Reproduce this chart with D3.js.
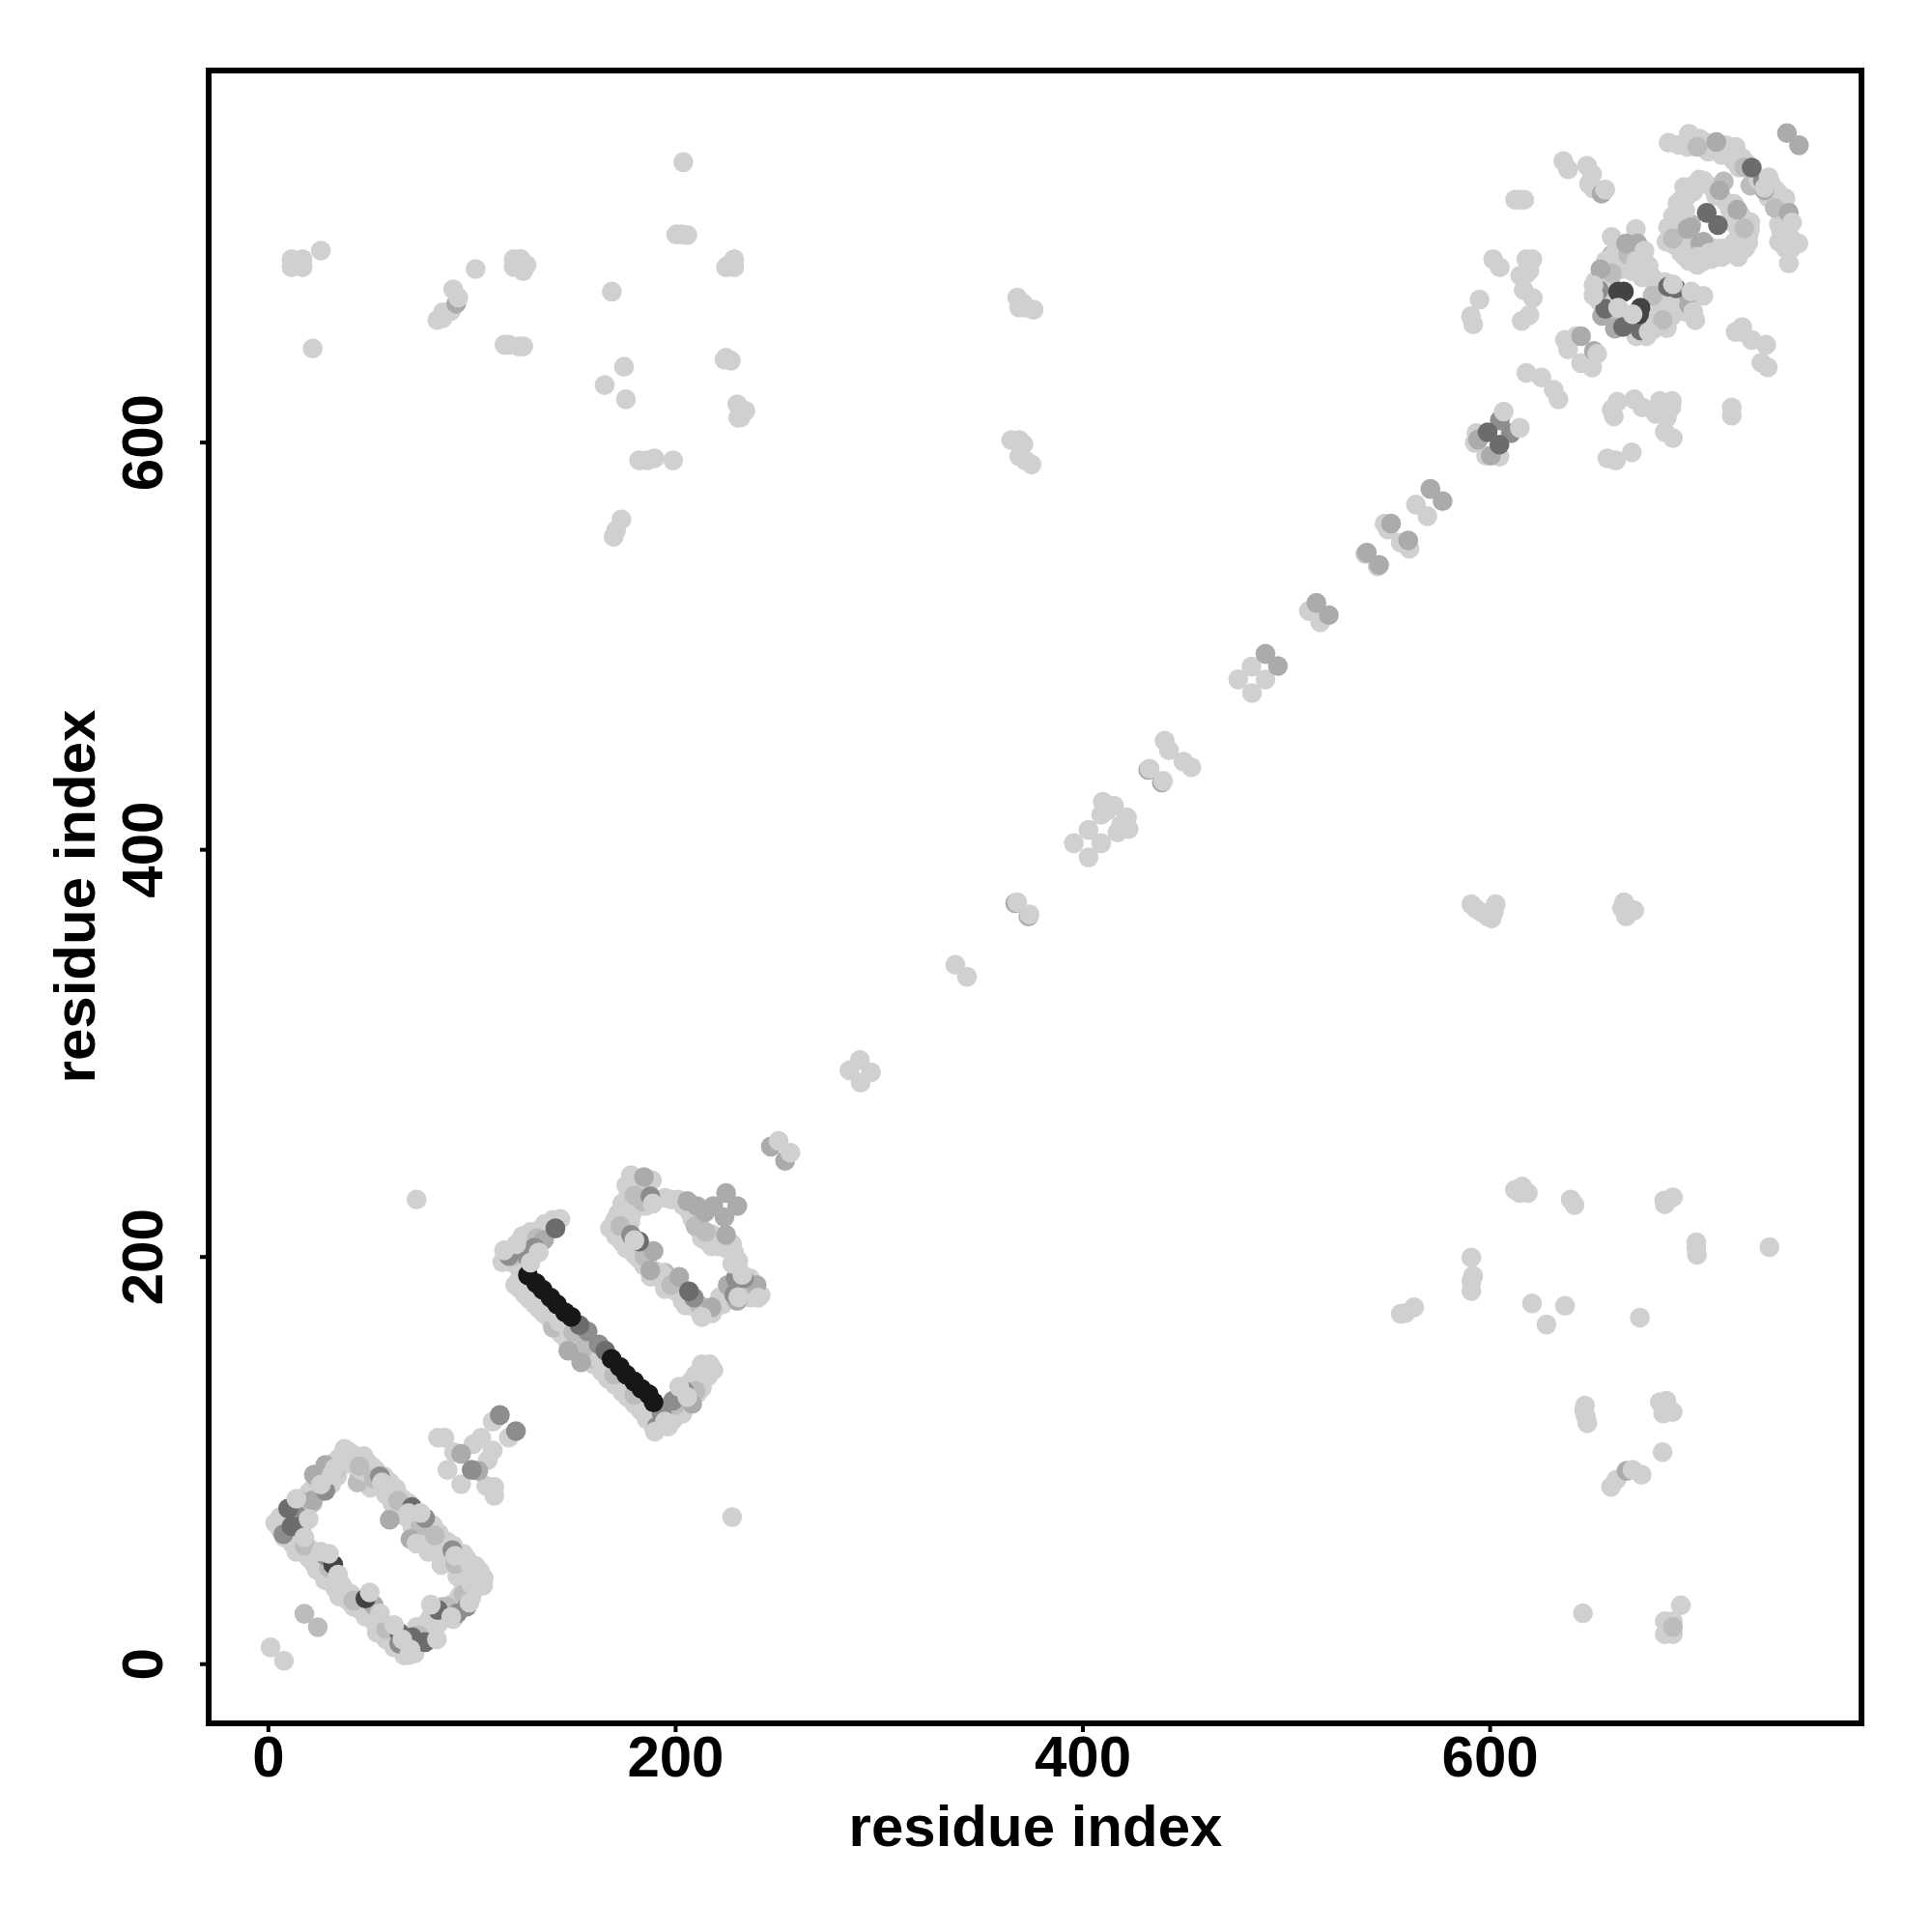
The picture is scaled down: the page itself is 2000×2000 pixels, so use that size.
<!DOCTYPE html>
<html><head><meta charset="utf-8">
<script src="https://cdnjs.cloudflare.com/ajax/libs/d3/7.8.5/d3.min.js"></script>
<style>html,body{margin:0;background:#fff}</style></head>
<body><div id="chart"></div>
<script>
const xTicks=[0,200,400,600];
const yTicks=[0,200,400,600];
const axisTitle="residue index";

const paleBase=[
[1.3,8],[7.9,1.4],[3.6,69.1],[17.9,81],[25,88.9],[28.9,89.7],[31.3,92.8],[42.4,102.3],[44.8,92.8],[48.7,99.1],[50.3,86.5],[53.5,89.7],[62.9,84.9],[66.1,73.8],[70.9,67.5],[75.6,62.8],[80.3,64.4],[85.1,61.2],[78.8,54.9],[85.1,48.5],[94.6,51.7],[93,43],[97.7,32.7],[88.2,24.8],[81.9,16.9],[75.6,16.9],[68.5,7.4],[56.6,16.9],[40.8,34.3],[31.3,40.6],[39.2,31.2],[53.5,15.3],[25,47],[45.5,26.4],[23.4,53.3],[13.9,54.9],
[83.5,111],[86.7,111],[110.4,118.9],[118.3,111],[100.9,107.8],[104.8,111],[110.4,104.7],[108,100],[91.4,103.9],[88.2,95.2],[94.9,88.1],[107.2,87.3],[111.2,86.8],[111.2,82.5],
[115.1,197.2],[122.2,205.1],[126.2,207.4],[133.3,213],[138.8,214.5],[143.6,218.5],[121.4,186],[124,184],[126.2,181.3],[128.5,179],[130.9,176.6],[133,174.5],[135.6,171.9],[139,168.5],[142,165.5],[144,162],[146.7,159.2],[150,156],[156.2,151.3],[160,147],[164.1,143.4],[167,140],[170.4,137],[174,133.5],[176.8,130.7],[180,127.5],[183.1,124.4],[186,120],[189.4,116.5],[196.5,116.5],[198.9,119.7],[203.6,122.8],[207.6,132.3],[213.1,135.5],[210,141.8],[214.7,143.4],[218.7,144.2],
[178.3,239.9],[176,235],[188.6,237.5],[185.5,224.8],[179.1,221.7],[174.4,222.5],[170.4,217.7],[168,213.8],[175.2,213.8],[195,228.8],[201.3,228],[208.4,218.5],[213.1,209],[217.9,205],[229,201.9],[228.1,196.4],[184.7,195.6],[193.4,188.5],[197.3,186.1],[203.6,178.2],[213.1,170.3],[210,175],[223.4,176.6],[240.8,179.8],[236.8,179.8],[236.8,189.3],
[285.6,291.4],[290.7,296.5],[296.2,290.5],[291.1,285.4],[337.6,343.3],[343.3,337.4],
[395.8,403],[403,409.5],[409.2,403],[403,396],[410,423.3],[415.5,421.4],[409.2,417],[412,419],[421.9,415.7],[422.7,409.9],[417.2,408.3],[419,412],[440.4,453.3],[442.5,448.6],[449.6,443],[453.5,440.3],
[476.5,483.4],[483,489.7],[489.9,483.4],[483.3,476.7],[511.2,517],[516.8,511.5],[538.9,545],[545,538.9],[548.4,560],[550,557],[556.3,550.6],[560.6,547.7],[563.8,569.3],[569.4,563.6],
[593.5,604.4],[592.7,599.6],[598.2,593.3],[604.8,592.8],
[618,634],[625.4,631.7],[631.4,625.7],[633.8,621],[590.8,661.8],[591.9,657.8],[595,670],[601.7,689.8],[605,685.8],[618,689.8],[621,689.8],[619.5,684.2],[615,681.8],[618,682.7],[616.7,674.7],[621.2,670.8],[619.5,662.4],[615.7,659.5],[612.5,719],[614.7,719],[617,719],
[636.2,738],[638.5,734],[647.8,735.8],[650.3,731.5],[648.8,726.8],[652.6,724],[651,724.5],[656.7,724],[637,650.2],[638.5,645.5],[644.9,638.8],[650.3,636.6],[642.5,652],
[659.9,615.9],[662.7,619.8],[671,621],[674.9,617],[681.5,613.8],[683.6,620.2],[689.5,620.2],[689.2,617],[687,614],[686,605],[690,602],[657.8,592],[662,591],[669.8,595],[718.9,617],[718.9,613],
[687.9,747],[697.9,751.4],[697,745],[705.8,747.4],[707.4,742.7],[716,745.8],[720.8,745],[724,739.5],[722.4,734.8],[730.3,730.8],[738.2,726.8],[740.6,723.7],[745.3,719.7],[742.1,707.1],[742.1,698.4],[751.6,697.6],[746.9,687.8],[745.3,695.2],
[695.5,725.3],[692.3,717.4],[687.6,705.5],[686.8,698.4],[690.8,696.8],[697.9,688.9],[705,688.9],[711.3,693.6],[717.6,692.9],[725.5,695.2],[705,728.4],[708.9,725.3],[713.7,720.5],[724,710.2],[727.9,704.7],[727.1,701.6],[692.3,704.7],[695.5,696.8],[700.2,692],[722.4,701.6],[719.2,707.9],
[659.9,700.8],[671.8,704.7],[659.9,690.5],[657.5,682.6],[665.5,688.9],[685.2,657.3],[689.2,661.6],[682,662],[701,659.9],[681.3,674.7],[686,678.6],[674.9,681],[671,684.2],[657.5,676.3],[690.8,663.6],[679.7,657.3],[682.8,669.9],[655.2,681],
[724,656.5],[720.8,654.1],[724,654],[728.7,650.2],[735.8,647.8],[733.4,639],[736.6,636.7],
[22,646],[11.6,689.8],[17,689.8],[11.6,685.8],[17,685.8],[26,694],[102,685],[120.7,689.8],[124,690],[127,687],[125.4,684],[120.7,686],[85.9,663.7],[89.8,664.4],[83.2,660],[85.7,660.7],[116.2,647.8],[118.3,647.8],[123,647],[125.4,647],
[204,737.5],[200.5,702],[203,702],[206,701.7],[225.8,686.6],[229,689.8],[225,685.8],[229,685.8],[168.9,673.9],[174.9,637],[165.4,628],[175.8,621],[225,641.5],[227.4,640],[224.2,640.5],[230.5,618.6],[234.5,615.4],[232.2,612.2],[231,612],[182.3,591],[186.3,591],[189.8,592],[199,591],[171,556.6],[169.8,553.5],[173.6,562],
[368,671],[371,668],[372,666],[376,665],[369,666],[365,601],[369,601],[371,599],[369,593],[372,591],[375,589],
[591,373],[593,371],[599,367],[602,369],[603,373],[596,369],[601,366],[666,374],[668,369],[671,370],[665,371],[667,367],
[612.4,232.7],[616,234.3],[618.8,231.2],[614.7,231.2],[639.8,228],[641.7,225.3],[685.7,227.5],[690,229],[686,225.6],[701.5,207],[701.5,204.3],[701.8,200.8],[737.4,204.6],[591,199.5],[591.9,190.5],[591,187.7],[591,183],[556.3,171.9],[558.7,172.2],[562.9,175],[620.8,177],[637,175.8],[627.9,166.6],[673.8,170],[646.8,126.8],[646.4,124.4],[648,118.1],[647.2,121.3],[683.6,128.4],[686.8,129.2],[689.9,123.6],[685.2,122.9],[684.9,103.9],[662.2,90.4],[659.6,86.8],[693.9,28.7],[645.8,24.8],[686,20.9],[690,20.9],[686,14.5],[690,14.5],[73,228],[228,72]
];
const lightGray=[[17.9,24.5],[24.5,17.9],[690,18],[22,79],[44,89],[61,72],[88,59],[86,28],[35,38],[123,195],[140,165],[160,150],[205,130],[212,222],[222,206],[195,192],[232,184],[660,692],[699,707],[728,726]];
const paleFill=[
[6,72],[8,70],[9,74],[12,72],[13,78],[15,76],[18,78],[20,84],[20,79],[22,86],[24,83],[26,87],[24,92],[27,93],[29,93],[30,97],[33,99],[35,101],[31,88],[34,92],[27,85],[36,97],[38,101],
[40,104],[42,98],[45,100],[46,95],[47,102],[50,93],[51,97],[53,95],[55,87],[57,92],[58,83],[60,89],[61,79],[63,86],[65,76],[66,81],[68,72],[69,79],[72,68],[73,74],[76,66],[76,70],[80,60],[81,68],[83,58],[84,64],[87,56],[88,60],[90,50],[91,58],[93,47],[96,54],[96,46],[98,51],[101,44],[102,48],[102,41],[106,42],[97,42],[103,38],
[99,36],[96,37],[100,33],[94,33],[95,28],[92,30],[90,29],[87,27],[91,22],[86,22],[84,20],[83,24],[80,23],[78,20],[79,14],[75,13],[73,18],[72,8],[70,9],[67,4],[72,5],[66,11],
[62,8],[60,14],[58,12],[56,21],[53,19],[51,24],[48,23],[44,31],[42,28],[38,36],[36,39],[35,33],[33,37],[29,44],[27,50],[28,41],[24,46],[22,50],[20,52],[20,57],[17,56],[15,62],[12,59],[10,66],[8,62],[6,66],
[117,201],[120,197],[120,203],[124,201],[125,210],[128,203],[129,212],[131,209],[134,209],[136,216],[140,218],[141,216],[137,212],
[193,118],[195,121],[200,124],[197,125],[201,128],[203,127],[205,129],[206,137],[209,136],[211,133],[208,139],[212,139],[216,141],[217,147],[213,147],
[123,188],[128,183],[133,178],[138,173],[143,168],[147,165],[152,160],[158,155],[163,149],[168,144],[173,139],[178,134],[183,129],[187,125],[191,121],
[180,236],[182,232],[177,230],[180,227],[184,236],[186,233],[174,226],[172,221],[177,218],[171,213],[173,210],[178,217],
[198,228],[204,225],[207,222],[209,221],[211,214],[211,218],[215,208],[218,211],[221,205],[225,204],[228,206],[231,198],[231,194],
[171,210],[174,207],[176,204],[180,201],[182,199],[186,198],[188,190],[190,193],[193,192],[195,184],[198,189],[200,183],[202,186],[205,176],[207,176],[214,173],[218,172],[220,175],[222,180],[226,180],[234,182],[238,184],[240,183],[242,181],
[693,746],[700,748],[702,745],[703,749],[712,744],[714,741],[718,742],[722,741],[726,737],[720,738],[732,729],[735,726],[737,720],[742,722],[744,716],[746,714],[743,704],[745,703],[748,700],[744,700],[748,695],
[697,721],[694,719],[690,711],[693,712],[689,701],[692,699],[694,693],[696,691],[702,687],[707,690],[709,690],[714,691],[720,694],[722,691],[727,698],[700,726],[703,729],[706,727],[711,721],[716,718],[718,714],[720,717],[723,712],[726,707],[728,708],[724,706],[700,723],[692,708],[696,714],[706,693],[710,694],[715,695],[720,698],[700,697],[708,696],
[662,693],[668,695],[667,691],[670,689],[673,694],[676,684],[680,681],[683,673],[685,672],[688,670],[690,668],[693,666],[696,664],[686,664],[683,659],[687,656],[675,659],[672,652],[677,652],[680,655],[660,686],[657,680],[660,677],[654,678],[655,672],[658,668],[654,669],[652,679],[657,689],[670,684],[665,685],[660,682],[668,660],[670,657],[672,658],[664,662],[660,664]
];
const lightOver=[[16,80],[25,90],[33,95],[45,97],[52,91],[64,80],[75,68],[82,63],[92,49],[96,34],[88,28],[74,14],[58,17],[42,31],[30,47],[18,58],[120,200],[132,209],[150,163],[155,155],[170,142],[180,132],[200,127],[210,134],[180,230],[184,227],[173,215],[210,215],[215,212],[185,200],[198,186],[212,176],[235,186],[702,745],[725,735],[740,715],[690,700],[715,728],[725,705],[660,683],[668,692],[680,672],[685,660],[665,660]];
const midGray=[
[21.8,80.2],[22.6,92.8],[28.2,97.6],[59.8,70.7],[70,61.2],[51.9,28.8],[94.9,103.1],[103.3,94.7],
[135.6,208.2],[147.5,153.7],[153.8,148.1],[208.4,127.6],[184.7,239],[206,227.2],[210.7,224.8],[214.7,221.7],[225,210.6],[189.4,202.7],[187.8,193.2],[202,190],[217.9,175],[225.8,186],[240,186],[230.5,178.2],
[225,231.2],[230.5,224.8],[218.7,224.8],[224.2,219.3],[247,254],[254,247],[367,373.5],[373.5,367],[432.3,439],[439,432.8],
[489.9,496],[496,490],[514.9,521],[521,515],[539.7,545.7],[545.7,539.7],[551.6,560],[560,551.7],[570.9,577],[576.9,571],
[594.3,601.2],[600.6,593.3],[644.9,652],[651.2,644.8],[655,722],[92.5,668],[667.3,94.7],
[711.3,747.4],[746,751.8],[751.9,745.8],[735,723.7],[746.9,712.6],[697.1,704.7],[698.7,705.5],[703.4,697.6],[705,698.4],[712.9,723.7],[721.6,714.2],[667,697.6],[672.6,697.6],[654.4,684.9],[655.2,662],[661.5,655.7],[697.9,667.5],[697.9,671.5]
];
const steelGray=[
[14.7,72.3],[7.6,63.6],[28.2,84.9],[55,92],[77.2,71.5],[90.6,55.7],[97.7,28],[93,24.8],[64.5,9.8],[28.2,53.3],[113.9,122.1],[121.8,114.2],[100.1,95.2],
[118.3,200.3],[127.7,199.5],[130.9,204.3],[157,163.2],[162.5,156.8],[191,116.5],[193.4,122.8],[198.9,129.2],[204.4,133.9],[187.8,229.6],[178.3,210.6],[209.2,179.8],[229.7,189.3],[233.7,189.3],[229,181.3],
[605,610.7],[610.4,604.4],[734.2,728.4],[653.6,674.7],[674.9,691.3]
];
const darkGray=[
[10,76.2],[11.6,67.5],[16.3,67.5],[70.8,77],[83.5,26.4],[77.2,10.6],[70.8,13],[64.5,15.3],
[141.2,213.8],[153,166.3],[165.7,153.7],[182.3,207.4],[206.8,182.9],
[599,604.8],[604.8,598.8],[728.7,734.8],[706.6,712.6],[712.1,706.6],[656.8,665.5],[665.5,656.5],[687.6,676.3],[691.5,675.5],[674.1,654.9]
];
const charcoal=[[47.9,32],[32.1,48.6],[663.1,673.9],[665.9,673.9],[674.1,666],[673.4,662.8]];
const nearBlack=[
[127.7,190.8],[131.7,186.9],[134.9,183.7],[138.8,179.8],[142,176.5],[145.9,172.6],[149,170.3],
[168.8,149.7],[172.8,145.8],[176,142],[179.9,138.6],[183.5,135],[187,132.3],[189.4,128.4]
];
const paleTop=[
[34.5,43.8],[17.9,62],[55,24.8],[69.3,4.3],[105.6,38.3],[100,39],[104.1,45.4],[99.3,48.5],[37.6,105.5],[32.9,96],[31.3,92.8],
[228.1,196.4],[229,199],[240.8,179.8],[213.1,170.3],[218.7,144.2],[214.7,143.4],[196.5,116.5],
[606.9,615],[614.8,607],[652.8,643.4],[678.1,686.5],[670.2,662.8],[663.1,666],[678.1,654.1],[656.7,724],[705,671.8],
[702,691],[708,693],[713,695],[687,612],[661,612.6],[690,677.5],[749.3,698.4],[748.5,707.9],[672,689],
[368,374],[374,368],[433,439.6],[439.6,433.6],[250.8,256.8],[256.6,251],[91,675],[93.5,671],[670.2,95.2],[674.6,92.8],
[14,81],[20,71],[69,74],[80,29],[83,12],[70,7],[62,19],[122,206],[50,35],[30,54],
[26,88],[56,89],[75,74],[73,59],[92,53],[99,30],[90,23],[66,12],[26,55],[116,203],[129,197],[133,202],[195,119],[190,114],[206,131],[202,136],[189,226],[180,208],[233,191],[231,180],[735,725],[737,730],[651,677],[651,672],[676,689],[676,694],[700,664],[699,674]
];
const layers=[[paleBase,"#d0d0d0"],[lightGray,"#bcbcbc"],[paleFill,"#d0d0d0"],[lightOver,"#bcbcbc"],[midGray,"#ababab"],[steelGray,"#8d8d8d"],[darkGray,"#6c6c6c"],[charcoal,"#434343"],[nearBlack,"#171717"],[paleTop,"#d0d0d0"]];

const W=2000,H=2000,L=216,R=1927,T=73,B=1784;
const x=d3.scaleLinear().domain([-29.1,782.6]).range([L,R]);
const y=d3.scaleLinear().domain([-29.3,782.5]).range([B,T]);
const svg=d3.select("#chart").append("svg").attr("width",W).attr("height",H).style("display","block");
svg.append("rect").attr("width",W).attr("height",H).attr("fill","#fff");
const font="'Liberation Sans',Arial,sans-serif";

layers.forEach(([pts,c])=>{
  svg.append("g").selectAll("circle").data(pts).join("circle")
    .attr("cx",d=>x(d[0])).attr("cy",d=>y(d[1])).attr("r",10.3).attr("fill",c);
});

svg.append("rect").attr("x",L).attr("y",T).attr("width",R-L).attr("height",B-T)
  .attr("fill","none").attr("stroke","#000").attr("stroke-width",6);

const gx=svg.append("g").attr("transform",`translate(0,${B})`)
  .call(d3.axisBottom(x).tickValues(xTicks).tickSize(9).tickPadding(4));
const gy=svg.append("g").attr("transform",`translate(${L},0)`)
  .call(d3.axisLeft(y).tickValues(yTicks).tickSize(9).tickPadding(4));
[gx,gy].forEach(g=>{
  g.select(".domain").remove();
  g.selectAll("line").attr("stroke","#000").attr("stroke-width",4);
  g.selectAll("text").attr("fill","#000").attr("font-family",font).attr("font-weight","bold").attr("font-size",60);
});
gx.selectAll("text").attr("dy",null).attr("y",null).attr("text-anchor","middle").attr("dominant-baseline","auto")
  .attr("transform",`translate(0,55)`);
gy.selectAll("text").attr("x",null).attr("dy",null).attr("text-anchor","middle")
  .attr("transform",`translate(-48,0) rotate(-90)`);
svg.append("text").attr("x",1072).attr("y",1911).attr("text-anchor","middle").attr("font-family",font)
  .attr("font-weight","bold").attr("font-size",60).text(axisTitle);
svg.append("text").attr("transform",`translate(98,928) rotate(-90)`).attr("text-anchor","middle").attr("font-family",font)
  .attr("font-weight","bold").attr("font-size",60).text(axisTitle);
</script></body></html>
